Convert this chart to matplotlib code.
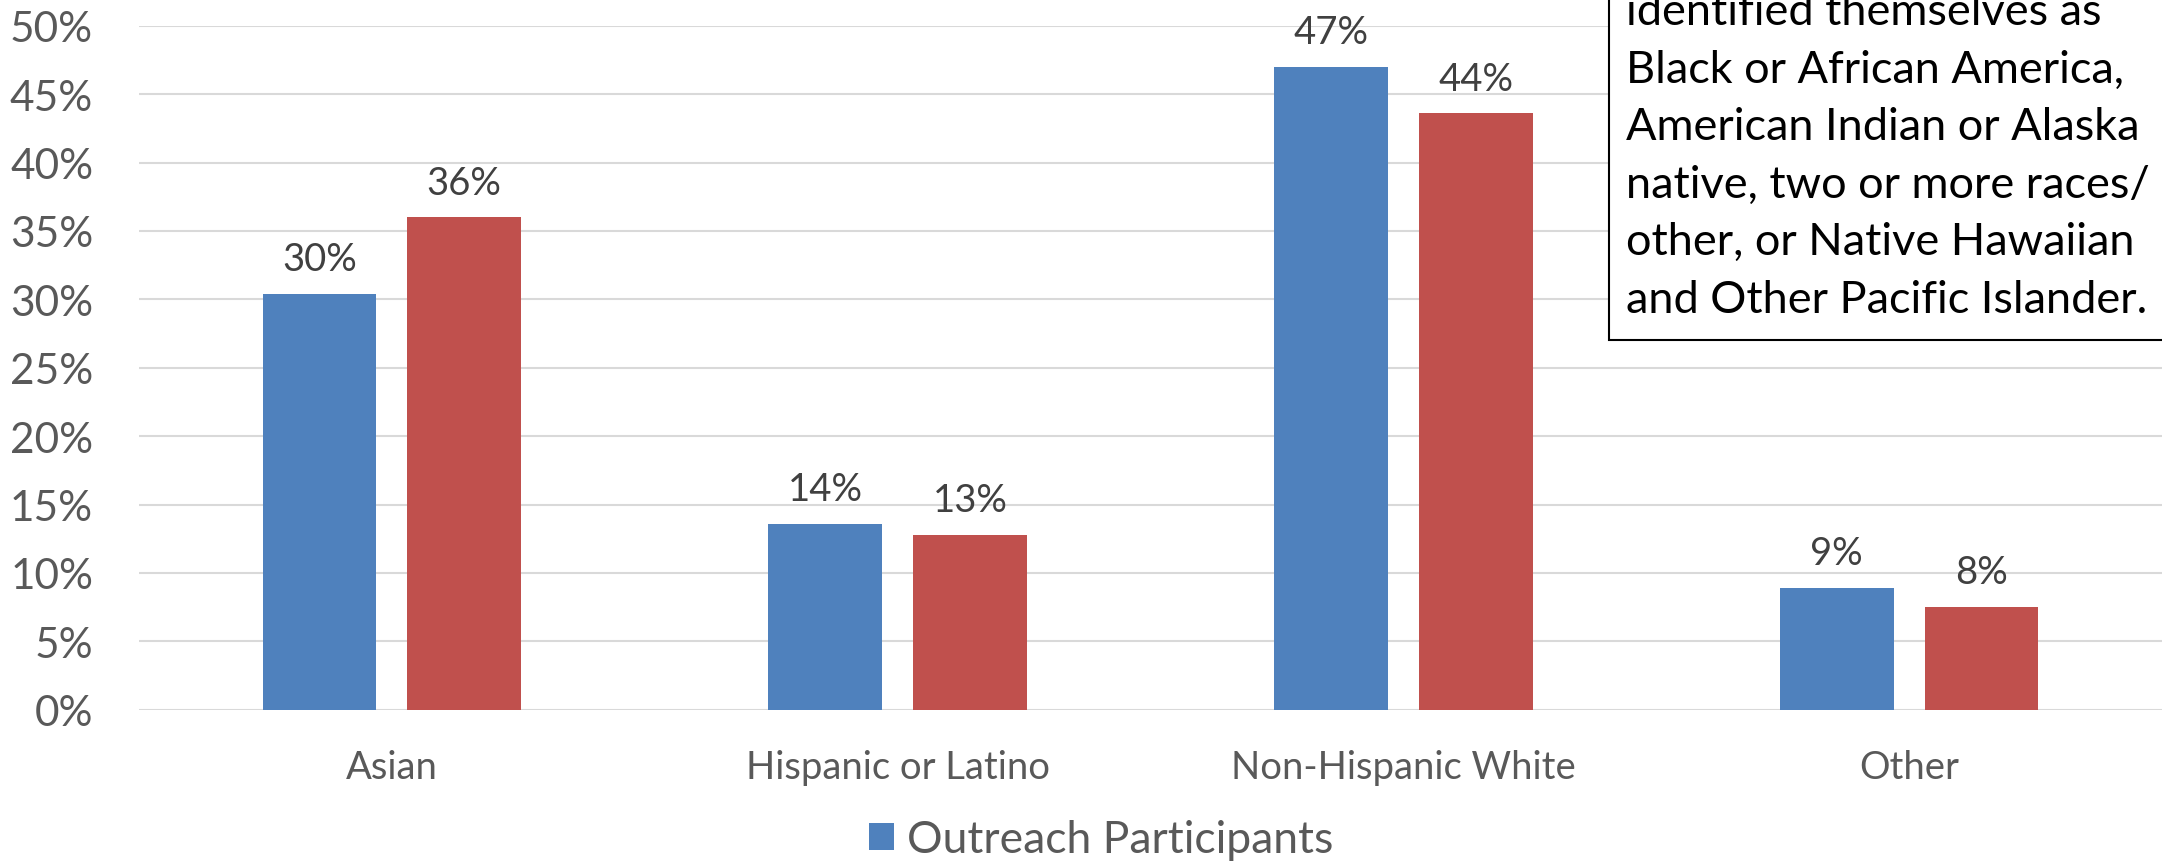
import matplotlib.pyplot as plt
import numpy as np
from matplotlib.patches import Rectangle

plt.rcParams['font.family'] = ['Lato', 'DejaVu Sans']

# Data (percent)
categories = ['Asian', 'Hispanic or Latino', 'Non-Hispanic White', 'Other']
outreach = [30.4, 13.6, 47.0, 8.9]
comparison = [36.0, 12.8, 43.6, 7.5]
y_ticks = [0, 5, 10, 15, 20, 25, 30, 35, 40, 45, 50]
legend_label = 'Outreach Participants'
note_lines = ['identified themselves as',
              'Black or African America,',
              'American Indian or Alaska',
              'native, two or more races/',
              'other, or Native Hawaiian',
              'and Other Pacific Islander.']

W, H = 2162, 862
fig = plt.figure(figsize=(W / 100, H / 100), dpi=100)
ax = fig.add_axes([139 / W, 1 - 710.7 / H, (W - 139) / W, (710.7 - 26.7) / H])

x = np.arange(len(categories))
width = 0.225
off = 0.143

b1 = ax.bar(x - off, outreach, width, color='#4F81BD', label=legend_label, zorder=2)
b2 = ax.bar(x + off, comparison, width, color='#C0504D', zorder=2)

for bars, vals in ((b1, outreach), (b2, comparison)):
    for rect, v in zip(bars, vals):
        ax.annotate(f'{v:.0f}%', (rect.get_x() + rect.get_width() / 2, v),
                    xytext=(0, 17), textcoords='offset points',
                    ha='center', va='baseline', fontsize=27.5, color='#404040')

ax.set_xlim(-0.5, len(categories) - 0.5)
ax.set_ylim(0, 50)
ax.set_yticks(y_ticks)
ax.set_yticklabels([f'{t}%' for t in y_ticks])
ax.set_xticks(x)
ax.set_xticklabels(categories)
ax.tick_params(axis='y', length=0, pad=33, labelsize=30.5, labelcolor='#595959')
ax.tick_params(axis='x', length=0, pad=28, labelsize=27.5, labelcolor='#595959')
ax.yaxis.grid(True, color='#D9D9D9', lw=1.5, zorder=0)
ax.set_axisbelow(True)
for s in ax.spines.values():
    s.set_visible(False)

# Legend (only the blue series is shown)
fs_leg = 32
px = fs_leg * 100 / 72
fig.legend(handles=[b1], labels=[legend_label], loc='center',
           bbox_to_anchor=(1101 / W, 1 - 841 / H), frameon=False,
           fontsize=fs_leg, labelcolor='#595959',
           handlelength=25 / px, handleheight=25 / px, handletextpad=13 / px,
           borderpad=0)

# Note box in the upper right, cut off by the image edges
box = Rectangle((1608.7 / W, 1 - 341 / H), 0.5, 0.8, transform=fig.transFigure,
                facecolor='white', edgecolor='black', lw=1.5, zorder=5)
fig.patches.append(box)
for i, line in enumerate(note_lines):
    fig.text(1626 / W, 1 - (25 + i * 57.6) / H, line, fontsize=32.5,
             color='black', ha='left', va='baseline', zorder=6)

fig.savefig('out.png', dpi=100)
